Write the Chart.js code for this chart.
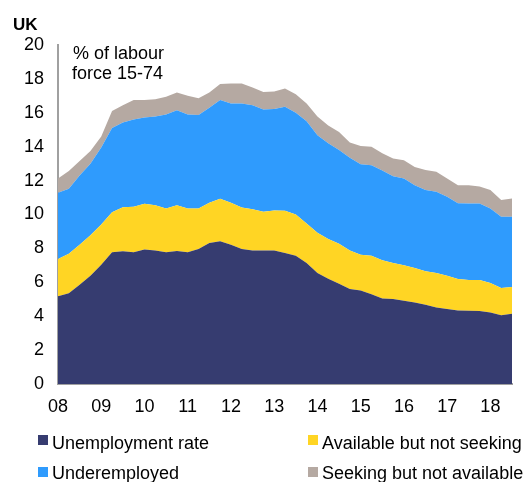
<!DOCTYPE html>
<html>
<head>
<meta charset="utf-8">
<script src="https://cdn.jsdelivr.net/npm/chart.js@4.4.1/dist/chart.umd.min.js"></script>
<style>
  html, body { margin: 0; padding: 0; background: #fff; }
  #wrap { position: relative; width: 524px; height: 482px; font-family: "Liberation Sans", Arial, sans-serif; color: #000; }
  #chart { position: absolute; left: 0; top: 0; }
  .txt { position: absolute; font-size: 18px; line-height: 18px; white-space: nowrap; }
  .box { position: absolute; width: 10px; height: 10px; }
</style>
</head>
<body>
<div id="wrap">
  <canvas id="chart" width="524" height="482"></canvas>
  <div class="txt" style="left:13px; top:16px; font-weight:bold; font-size:17px;">UK</div>
  <div class="txt" style="left:73px; top:44px;">% of labour</div>
  <div class="txt" style="left:72px; top:64px;">force 15-74</div>
  <div id="legend"></div>
</div>
<script>
/* ── DATA ───────────────────────────────────────── */
const years = ["08", "09", "10", "11", "12", "13", "14", "15", "16", "17", "18"];

// quarterly, 2008Q1 .. 2018Q3
const unemployment = [
  5.17, 5.36, 5.86, 6.39, 7.04, 7.77, 7.83, 7.77, 7.93, 7.87, 7.77, 7.85,
  7.77, 7.97, 8.32, 8.42, 8.22, 7.97, 7.87, 7.87, 7.87, 7.73, 7.57, 7.14,
  6.55, 6.21, 5.92, 5.60, 5.52, 5.30, 5.05, 5.01, 4.91, 4.81, 4.67, 4.51,
  4.42, 4.34, 4.32, 4.30, 4.22, 4.06, 4.14,
];
const availableNotSeeking = [
  2.21, 2.33, 2.36, 2.39, 2.37, 2.37, 2.60, 2.68, 2.70, 2.68, 2.59, 2.70,
  2.59, 2.39, 2.37, 2.51, 2.47, 2.44, 2.44, 2.29, 2.37, 2.49, 2.43, 2.33,
  2.37, 2.35, 2.36, 2.27, 2.11, 2.27, 2.25, 2.13, 2.09, 2.03, 1.98, 2.04,
  1.97, 1.85, 1.81, 1.83, 1.74, 1.60, 1.58,
];
const underemployed = [
  3.90, 3.83, 4.08, 4.22, 4.54, 4.96, 5.00, 5.15, 5.09, 5.23, 5.54, 5.60,
  5.54, 5.51, 5.61, 5.82, 5.86, 6.14, 6.14, 6.04, 5.98, 6.13, 6.00, 6.03,
  5.75, 5.64, 5.52, 5.48, 5.33, 5.33, 5.30, 5.11, 5.13, 4.88, 4.79, 4.79,
  4.66, 4.47, 4.52, 4.52, 4.39, 4.20, 4.14,
];
const seekingNotAvailable = [
  0.85, 1.04, 0.85, 0.75, 0.65, 1.00, 1.02, 1.15, 1.03, 1.02, 1.05, 1.05,
  1.10, 0.99, 0.90, 0.95, 1.18, 1.18, 1.05, 1.02, 1.03, 1.08, 1.10, 1.05,
  1.11, 1.05, 1.07, 0.90, 1.08, 1.10, 1.02, 1.05, 1.07, 1.08, 1.18, 1.18,
  1.08, 1.07, 1.08, 1.00, 1.09, 0.99, 1.09,
];

/* ── SERIES STYLE ───────────────────────────────── */
const series = [
  { label: "Unemployment rate", data: unemployment, color: "#363c70" },
  { label: "Available but not seeking", data: availableNotSeeking, color: "#ffd524" },
  { label: "Underemployed", data: underemployed, color: "#2f9bfd" },
  { label: "Seeking but not available", data: seekingNotAvailable, color: "#b5a9a2" },
];

// one category per quarter; year label only on Q1
const quarters = [];
years.forEach((y) => ["Q1", "Q2", "Q3", "Q4"].forEach((q) => quarters.push(y + q)));
quarters.length = unemployment.length;

/* ── CHART ──────────────────────────────────────── */
const font = { family: "'Liberation Sans', Arial, sans-serif", size: 18 };
const axisColor = "#a0a0a0";

new Chart(document.getElementById("chart").getContext("2d"), {
  type: "line",
  data: {
    labels: quarters,
    datasets: series.map((s, i) => ({
      label: s.label,
      data: s.data,
      backgroundColor: s.color,
      borderColor: s.color,
      borderWidth: 0,
      pointRadius: 0,
      tension: 0,
      fill: i === 0 ? "origin" : "-1",
    })),
  },
  options: {
    responsive: false,
    animation: false,
    devicePixelRatio: 1,
    layout: { padding: { left: 0, top: 45, right: 10, bottom: 58 } },
    plugins: { legend: { display: false }, tooltip: { enabled: false } },
    scales: {
      x: {
        grid: { display: false, drawTicks: false },
        border: { display: true, color: axisColor, width: 2 },
        ticks: {
          autoSkip: false,
          maxRotation: 0,
          padding: 12,
          color: "#000",
          font,
          callback: (v, i) => (i % 4 === 0 ? years[i / 4] : ""),
        },
        afterFit: (s) => { s.height = 40; },
      },
      y: {
        stacked: true,
        min: 0,
        max: 20,
        grid: { display: false, drawTicks: false },
        border: { display: true, color: axisColor, width: 2 },
        ticks: { stepSize: 2, padding: 14, color: "#000", font },
        afterFit: (s) => { s.width = 58; },
      },
    },
  },
});

/* ── LEGEND ─────────────────────────────────────── */
const legendPos = [
  { x: 38, y: 435, ty: 434 },  // Unemployment rate
  { x: 308, y: 435, ty: 434 }, // Available but not seeking
  { x: 38, y: 467, ty: 464 },  // Underemployed
  { x: 308, y: 467, ty: 464 }, // Seeking but not available
];
const legendEl = document.getElementById("legend");
series.forEach((s, i) => {
  const p = legendPos[i];
  legendEl.innerHTML +=
    `<div class="box" style="left:${p.x}px; top:${p.y}px; background:${s.color}"></div>` +
    `<div class="txt" style="left:${p.x + 14}px; top:${p.ty}px">${s.label}</div>`;
});
</script>
</body>
</html>
